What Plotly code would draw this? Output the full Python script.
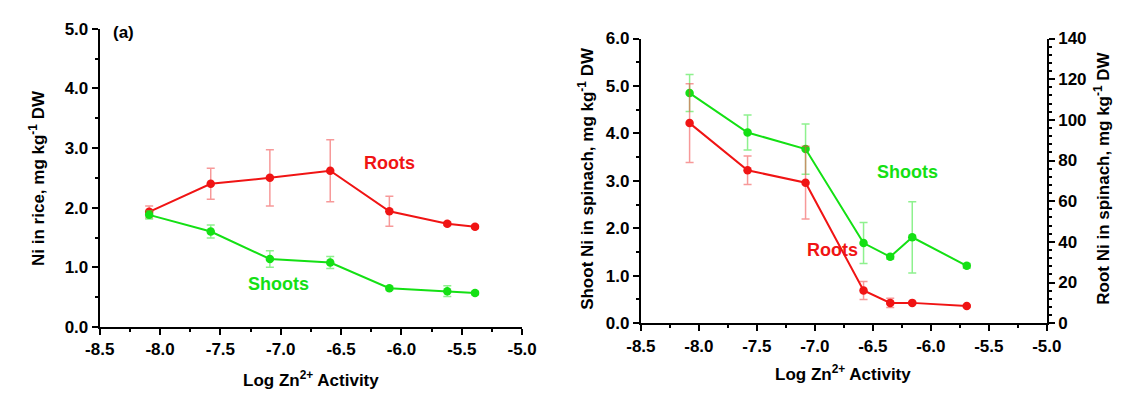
import plotly.graph_objects as go

# ---- Panel (a): rice ----
a_x = [-8.09, -7.58, -7.09, -6.59, -6.10, -5.62, -5.39]
a_roots = [1.93, 2.40, 2.50, 2.62, 1.94, 1.73, 1.68]
a_roots_err = [0.10, 0.26, 0.47, 0.52, 0.25, 0.03, 0.03]
a_shoots = [1.88, 1.60, 1.14, 1.08, 0.65, 0.60, 0.57]
a_shoots_err = [0.07, 0.11, 0.14, 0.10, 0.03, 0.09, 0.03]

# ---- Panel (b): spinach ----
b_x = [-8.08, -7.58, -7.08, -6.58, -6.35, -6.16, -5.69]
b_shoots = [4.85, 4.02, 3.67, 1.69, 1.40, 1.81, 1.21]
b_shoots_err = [0.39, 0.37, 0.53, 0.43, 0.05, 0.75, 0.05]
b_roots = [98.4, 75.2, 69.1, 16.1, 10.0, 10.0, 8.5]
b_roots_err = [19.4, 7.0, 17.9, 4.4, 2.3, 0.5, 0.5]

x_ticks = [-8.5, -8.0, -7.5, -7.0, -6.5, -6.0, -5.5, -5.0]
x_tick_labels = ["-8.5", "-8.0", "-7.5", "-7.0", "-6.5", "-6.0", "-5.5", "-5.0"]
ya_ticks = [0, 1, 2, 3, 4, 5]
ya_labels = ["0.0", "1.0", "2.0", "3.0", "4.0", "5.0"]
yb_ticks = [0, 1, 2, 3, 4, 5, 6]
yb_labels = ["0.0", "1.0", "2.0", "3.0", "4.0", "5.0", "6.0"]
yr_ticks = [0, 20, 40, 60, 80, 100, 120, 140]

RED = "#f01414"
GREEN = "#14e014"
RED_E = "rgba(240,70,70,0.55)"
GREEN_E = "rgba(50,230,50,0.55)"
FONT = "Liberation Sans, Arial, sans-serif"

W, H = 1127, 397
fig = go.Figure()

def add(x, y, err, color, ecolor, xa, ya):
    fig.add_trace(go.Scatter(
        x=x, y=y, mode="lines+markers", xaxis=xa, yaxis=ya,
        line=dict(color=color, width=2),
        marker=dict(color=color, size=8.5, symbol="circle"),
        error_y=dict(type="data", array=err, visible=True, color=ecolor,
                     thickness=1.5, width=4),
        showlegend=False, hoverinfo="skip"))

add(a_x, a_roots, a_roots_err, RED, RED_E, "x", "y")
add(a_x, a_shoots, a_shoots_err, GREEN, GREEN_E, "x", "y")
add(b_x, b_shoots, b_shoots_err, GREEN, GREEN_E, "x2", "y2")
add(b_x, b_roots, b_roots_err, RED, RED_E, "x2", "y3")

def px_x(p):
    return p / W

def px_y(p):
    return 1 - p / H

tickfont = dict(family=FONT, size=17, color="black", weight="bold")
common = dict(showgrid=False, zeroline=False, showline=True, linecolor="black",
              linewidth=2, ticks="outside", ticklen=6, tickwidth=2, tickcolor="black",
              tickfont=tickfont,
              minor=dict(ticks="outside", ticklen=3, tickwidth=1.5, tickcolor="black"))

fig.update_layout(
    width=W, height=H, margin=dict(l=0, r=0, t=0, b=0),
    paper_bgcolor="white", plot_bgcolor="white",
    xaxis=dict(domain=[px_x(87), px_x(521)], range=[-8.5, -5.0], anchor="y",
               tickvals=x_ticks, ticktext=x_tick_labels, minor_dtick=0.25, **common),
    yaxis=dict(domain=[px_y(334), px_y(20.7)], range=[0, 5.0], anchor="x",
               tickvals=ya_ticks, ticktext=ya_labels, minor_dtick=0.5, **common),
    xaxis2=dict(domain=[px_x(643), px_x(1060)], range=[-8.5, -5.0], anchor="y2",
                tickvals=x_ticks, ticktext=x_tick_labels, minor_dtick=0.25, **common),
    yaxis2=dict(domain=[px_y(330), px_y(31)], range=[0, 6.0], anchor="x2",
                tickvals=yb_ticks, ticktext=yb_labels, minor_dtick=0.5, **common),
    yaxis3=dict(domain=[px_y(330), px_y(31)], range=[0, 140], overlaying="y2",
                side="right", anchor="x2", tickvals=yr_ticks, minor_dtick=4, **common),
)

def ann(text, x, y, color="black", size=17, angle=0, xref="paper", yref="paper"):
    if xref == "paper":
        x = x / W
    if yref == "paper":
        y = 1 - y / H
    fig.add_annotation(text=text, x=x, y=y, xref=xref, yref=yref,
                       showarrow=False, textangle=angle,
                       font=dict(family=FONT, size=size, color=color, weight="bold"),
                       xanchor="center", yanchor="middle")

ann("(a)", -8.30, 4.93, xref="x", yref="y")
ann("(b)", -8.28, 6.05, xref="x2", yref="y2")
ann("Roots", -6.10, 2.75, RED, 18, xref="x", yref="y")
ann("Shoots", -7.02, 0.72, GREEN, 18, xref="x", yref="y")
ann("Shoots", -6.20, 3.19, GREEN, 18, xref="x2", yref="y2")
ann("Roots", -6.85, 1.54, RED, 18, xref="x2", yref="y2")
ann("Ni in rice, mg kg<sup>-1</sup> DW", 22, 177, angle=-90)
ann("Shoot Ni in spinach, mg kg<sup>-1</sup> DW", 587, 178, angle=-90)
ann("Root Ni in spinach, mg kg<sup>-1</sup> DW", 1117, 178, angle=-90)
ann("Log Zn<sup>2+</sup> Activity", 304, 389)
ann("Log Zn<sup>2+</sup> Activity", 851, 382)

fig.write_html("out.html", config={"displayModeBar": False},
               post_script="document.body.style.margin='0';")
